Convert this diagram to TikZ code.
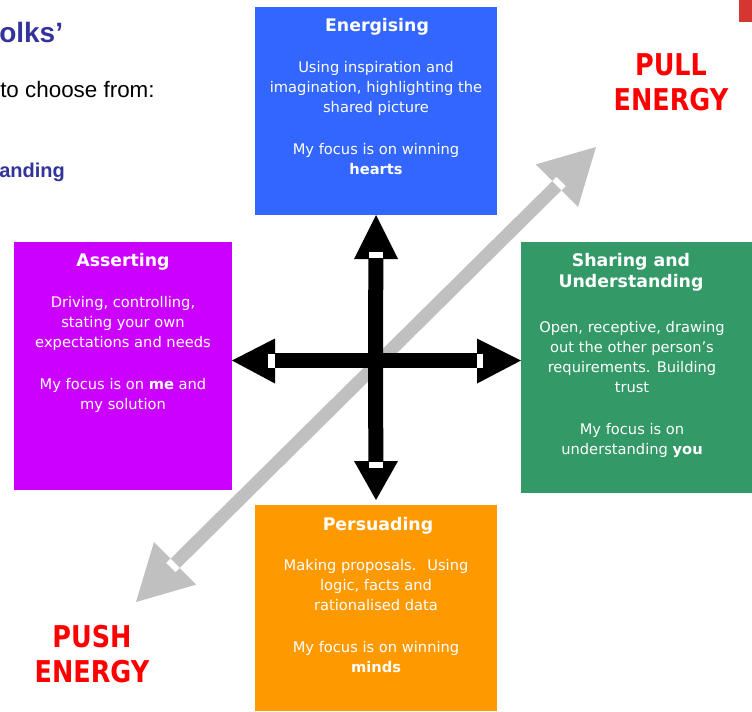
\documentclass[tikz,border=0pt]{standalone}
\usepackage{fontspec}
\setmainfont{DejaVu Sans}
\newfontfamily\arialfont{Liberation Sans}
\newfontfamily\labelfont[FakeStretch=0.85]{DejaVu Sans}
\usetikzlibrary{calc}

\definecolor{energblue}{HTML}{3366FF}
\definecolor{assertmag}{HTML}{CC00FF}
\definecolor{sharegreen}{HTML}{339966}
\definecolor{persorange}{HTML}{FF9900}
\definecolor{axisgray}{HTML}{C0C0C0}
\definecolor{headnavy}{HTML}{333399}
\definecolor{cornerred}{RGB}{214,54,50}

% multi-line nodes sit on the baseline of their last line
\tikzset{
  stylebox/.style={inner sep=0pt, outer sep=0pt, anchor=north west},
  boxtitle/.style={text=white, inner sep=0pt, anchor=base, align=center,
    font=\fontsize{13}{15.75}\selectfont\bfseries},
  boxbody/.style={text=white, inner sep=0pt, anchor=base, align=center,
    font=\fontsize{11}{15}\selectfont},
  energylabel/.style={text=red, inner sep=0pt, anchor=base, align=center,
    font=\labelfont\fontsize{22.5}{26}\selectfont\bfseries},
  crossshaft/.style={line width=11.25pt, black, shorten >=20pt},
  crosshead/.style={fill=black},
  diagshaft/.style={line width=9.75pt, axisgray, shorten >=30pt, shorten <=30pt},
  diaghead/.style={fill=axisgray},
  notch/.style={fill=white},
}

\newcommand{\gap}{\\[16.5pt]}

\begin{document}
\begin{tikzpicture}[x=0.75pt,y=-0.75pt]
\useasboundingbox (0,0) rectangle (752,711);

% heading fragments on the left
\node[anchor=base west, inner sep=0pt, text=headnavy,
      font=\arialfont\fontsize{21}{24}\selectfont\bfseries] (folks) at (-1,42) {olks’};
\node[anchor=base west, inner sep=0pt, text=black,
      font=\arialfont\fontsize{16.8}{20}\selectfont] (choose) at (0,97) {to choose from:};
\node[anchor=base west, inner sep=0pt, text=headnavy,
      font=\arialfont\fontsize{15}{18}\selectfont\bfseries] (anding) at (-1,177) {anding};

% small red mark in the corner
\fill[cornerred] (739,0) rectangle (752,22);

% the four style boxes
\node[stylebox, fill=energblue, minimum width=181.5pt, minimum height=156pt] (energ) at (255,7) {};
\node[stylebox, fill=assertmag, minimum width=163.5pt, minimum height=186pt] (assert) at (14,242) {};
\node[stylebox, fill=sharegreen, minimum width=173.25pt, minimum height=188.25pt] (share) at (521,242) {};
\node[stylebox, fill=persorange, minimum width=181.5pt, minimum height=154.5pt] (persu) at (255,505) {};

% diagonal push/pull axis
\coordinate (pushTip) at (136,602);
\coordinate (pullTip) at (596,147);
\draw[diagshaft] (pushTip) -- (pullTip);
\fill[diaghead] (pullTip) -- ($(pullTip)+(-60.2,17.4)$) -- ($(pullTip)+(-18,60)$) -- cycle;
\fill[diaghead] (pushTip) -- ($(pushTip)+(60.2,-17.4)$) -- ($(pushTip)+(18,-60)$) -- cycle;
\fill[notch, shift={(559,183.6)}, rotate=44.7] (-3,-6.5) rectangle (3,6.5);
\fill[notch, shift={(173,565.4)}, rotate=44.7] (-3,-6.5) rectangle (3,6.5);

% central cross
\coordinate (hub) at (375.5,360.5);
\coordinate (upTip) at (energ.south);
\coordinate (rightTip) at (hub -| share.west);
\coordinate (leftTip) at (hub -| assert.east);
\coordinate (downTip) at ($(persu.north)+(0,-5)$);
\draw[crossshaft] (hub) -- (upTip);
\draw[crossshaft] (hub) -- (downTip);
\draw[crossshaft] (hub) -- (leftTip);
\draw[crossshaft] (hub) -- (rightTip);
\fill[crosshead] (upTip) -- ($(upTip)+(-22,44)$) -- ($(upTip)+(22,44)$) -- cycle;
\fill[crosshead] (downTip) -- ($(downTip)+(-22,-39)$) -- ($(downTip)+(22,-39)$) -- cycle;
\fill[crosshead] (leftTip) -- ($(leftTip)+(43,-22)$) -- ($(leftTip)+(43,23)$) -- cycle;
\fill[crosshead] (rightTip) -- ($(rightTip)+(-44,-22)$) -- ($(rightTip)+(-44,23)$) -- cycle;
\fill[notch] ($(upTip)+(-7,37)$) rectangle ($(upTip)+(7,43)$);
\fill[notch] ($(downTip)+(-7,-38)$) rectangle ($(downTip)+(7,-32)$);
\fill[notch] ($(leftTip)+(36,-6.5)$) rectangle ($(leftTip)+(43,7)$);
\fill[notch] ($(rightTip)+(-44,-6.5)$) rectangle ($(rightTip)+(-38,7)$);

% box texts
\node[boxtitle] (energT) at (377,31) {Energising};
\node[boxbody] (energB) at (376,174) {Using inspiration and\\imagination, highlighting the\\shared picture\gap
  My focus is on winning\\\textbf{hearts}};

\node[boxtitle] (assertT) at (123,266) {Asserting};
\node[boxbody] (assertB) at (123,409) {Driving, controlling,\\stating your own\\expectations and needs\gap
  My focus is on \textbf{me} and\\my solution};

\node[boxtitle] (shareT) at (631,287) {Sharing and\\Understanding};
\node[boxbody] (shareB) at (632,454) {Open, receptive, drawing\\out the other person’s\\requirements. Building\\trust\gap
  My focus is on\\understanding \textbf{you}};

\node[boxtitle] (persuT) at (378,530) {Persuading};
\node[boxbody] (persuB) at (376,672) {Making proposals.~ Using\\logic, facts and\\rationalised data\gap
  My focus is on winning\\\textbf{minds}};

% push / pull labels
\node[energylabel] (pull) at (671,110) {PULL\\ENERGY};
\node[energylabel] (push) at (92,682) {PUSH\\ENERGY};
\end{tikzpicture}
\end{document}
